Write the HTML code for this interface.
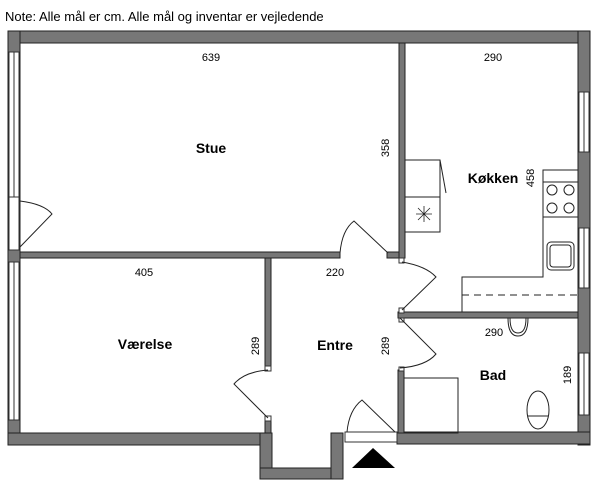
<!DOCTYPE html>
<html><head><style>
body{margin:0;background:#fff;width:600px;height:484px;overflow:hidden}
text{font-family:"Liberation Sans",sans-serif;fill:#000}
</style></head><body>
<svg width="600" height="484" viewBox="0 0 600 484" xmlns="http://www.w3.org/2000/svg">
<text x="5" y="21" font-size="13">Note: Alle mål er cm. Alle mål og inventar er vejledende</text>
<g fill="#777" stroke="#222" stroke-width="1">
<rect x="8" y="31" width="582" height="12"/>
<rect x="8" y="31" width="12" height="414"/>
<rect x="578" y="31" width="12" height="414"/>
<rect x="8" y="433" width="264" height="12"/>
<rect x="397" y="432" width="193" height="12"/>
<rect x="260" y="433" width="12" height="46"/>
<rect x="260" y="468" width="83" height="11"/>
<rect x="331" y="433" width="12" height="46"/>
<rect x="20" y="252" width="320" height="6"/>
<rect x="387" y="252" width="18" height="6"/>
<rect x="399" y="43" width="6" height="215"/>
<rect x="265" y="258" width="6" height="112"/>
<rect x="265" y="418" width="6" height="15"/>
<rect x="398" y="312" width="180" height="6"/>
<rect x="398" y="370" width="6" height="63"/>
</g>
<g fill="#fff" stroke="#333" stroke-width="1">
<rect x="9" y="52" width="10" height="145"/><line x1="14" y1="52" x2="14" y2="197"/>
<rect x="9" y="197" width="10" height="53"/>
<rect x="9" y="262" width="10" height="158"/><line x1="14" y1="262" x2="14" y2="420"/>
<rect x="579" y="92" width="10" height="60"/><line x1="584" y1="92" x2="584" y2="152"/>
<rect x="579" y="228" width="10" height="60"/><line x1="584" y1="228" x2="584" y2="288"/>
<rect x="579" y="353" width="10" height="62"/><line x1="584" y1="353" x2="584" y2="415"/>
<rect x="345" y="432" width="52" height="10"/>
<rect x="399" y="258" width="5" height="5"/><rect x="399" y="308" width="5" height="5"/>
<rect x="399" y="318" width="5" height="4"/><rect x="399" y="367" width="5" height="4"/>
<rect x="265" y="366" width="6" height="5"/><rect x="265" y="416" width="6" height="5"/>
</g>
<g fill="none" stroke="#222" stroke-width="1">
<path d="M20 201 Q44 204 52 214 L20 247"/>
<path d="M340 253 Q342 230 354 221 L388 253"/>
<path d="M402 262 Q426 266 436 277 L402 310"/>
<path d="M400 318 L436 354 Q426 366 400 368"/>
<path d="M268 370 Q244 372 234 384 L268 418"/>
<path d="M347 432 Q349 410 362 400 L395 432"/>
<rect x="405" y="160" width="35" height="37"/>
<rect x="405" y="197" width="35" height="35"/>
<line x1="440" y1="160" x2="446" y2="193"/>
<path d="M416 214 h16 M424 206 v16 M418 208 l12 12 M430 208 l-12 12" stroke-width="0.8"/>
<rect x="543" y="170" width="35" height="47"/>
<line x1="543" y1="182" x2="578" y2="182"/>
<circle cx="552" cy="190" r="5"/><circle cx="569" cy="190" r="5"/>
<circle cx="552" cy="208" r="5"/><circle cx="569" cy="208" r="5"/>
<path d="M543 217 V277 H462 V312"/>
<line x1="462" y1="295" x2="578" y2="295" stroke-dasharray="7,5"/>
<rect x="547" y="242" width="27" height="28" rx="4"/>
<rect x="550" y="245" width="21" height="22" rx="3"/>
<rect x="404" y="378" width="54" height="55"/>
<path d="M508 318 Q508 336 518 336 Q528 336 528 318"/>
<path d="M510 318 Q510 333 518 333 Q526 333 526 318"/>
<ellipse cx="538" cy="410" rx="11" ry="19"/>
<line x1="528" y1="416" x2="548" y2="416"/>
</g>
<polygon points="352,468 395,468 373,448" fill="#000"/>
<g font-size="11" text-anchor="middle">
<text x="211" y="61">639</text>
<text x="493" y="61">290</text>
<text x="144" y="276">405</text>
<text x="335" y="276">220</text>
<text x="494" y="336">290</text>
<text transform="translate(389,148) rotate(-90)">358</text>
<text transform="translate(534,178) rotate(-90)">458</text>
<text transform="translate(259,346) rotate(-90)">289</text>
<text transform="translate(389,346) rotate(-90)">289</text>
<text transform="translate(571,375) rotate(-90)">189</text>
</g>
<g font-size="14" font-weight="bold" text-anchor="middle">
<text x="211" y="153">Stue</text>
<text x="493" y="183">Køkken</text>
<text x="145" y="349">Værelse</text>
<text x="335" y="350">Entre</text>
<text x="493" y="380">Bad</text>
</g>
</svg>
</body></html>
